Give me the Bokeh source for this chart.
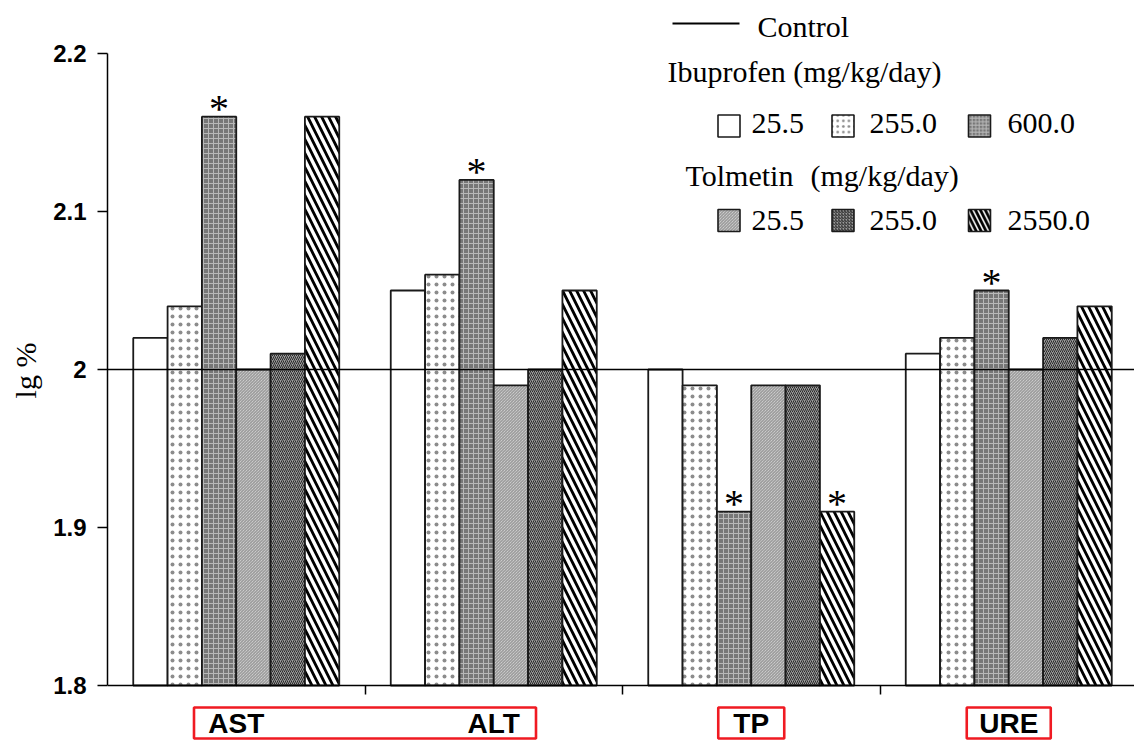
from bokeh.plotting import figure
from bokeh.models import Range1d, LinearAxis, FixedTicker, CustomJSTickFormatter, Span
from bokeh.core.properties import value
from bokeh.embed import file_html
from bokeh.resources import INLINE

# ---- data (lg % of control) ----
groups = ["AST", "ALT", "TP", "URE"]
ibu_25_5 = [2.02, 2.05, 2.00, 2.01]
ibu_255_0 = [2.04, 2.06, 1.99, 2.02]
ibu_600_0 = [2.16, 2.12, 1.91, 2.05]
tol_25_5 = [2.00, 1.99, 1.99, 2.00]
tol_255_0 = [2.01, 2.00, 1.99, 2.02]
tol_2550_0 = [2.16, 2.05, 1.91, 2.04]
control_level = 2.0
# significance markers (*) per group
sig_ibu_600_0 = [True, True, True, True]
sig_tol_2550_0 = [False, False, True, False]

ibu_doses = ["25.5", "255.0", "600.0"]
tol_doses = ["25.5", "255.0", "2550.0"]
y_ticks = [1.8, 1.9, 2.0, 2.1, 2.2]
# label boxes: which groups share one red frame
label_boxes = [["AST", "ALT"], ["TP"], ["URE"]]
label_box_widths = [342, 66, 84]

series_values = [ibu_25_5, ibu_255_0, ibu_600_0, tol_25_5, tol_255_0, tol_2550_0]
series_sig = [None, None, sig_ibu_600_0, None, None, sig_tol_2550_0]

# fill / hatch styles for the six dose series
styles = [
    dict(fill_color="white"),
    dict(fill_color="white", hatch_pattern="dot", hatch_color="#8c8c8c", hatch_scale=8, hatch_weight=0.6),
    dict(fill_color="#777777", hatch_pattern="cross", hatch_color="#b8b8b8", hatch_scale=5, hatch_weight=1),
    dict(fill_color="#e2e2e2", hatch_pattern="left_diagonal_line", hatch_color="#8a8a8a", hatch_scale=3, hatch_weight=1),
    dict(fill_color="#9a9a9a", hatch_pattern="right_diagonal_line", hatch_color="#2a2a2a", hatch_scale=4, hatch_weight=1),
    dict(fill_color="white", hatch_pattern="left_diagonal_line", hatch_color="black", hatch_scale=14, hatch_weight=2.8),
]

W, H = 1134, 740
LEFT = 107
GROUP_PX = 257.5
Y_PX = 1580.0        # pixels per unit of lg %
Y_ZERO_PX = 369      # vertical pixel of the control level

x_end = (W - LEFT) / GROUP_PX
y_top = control_level + Y_ZERO_PX / Y_PX
y_bot = control_level - (H - Y_ZERO_PX) / Y_PX


def px_x(px):
    return (px - LEFT) / GROUP_PX


def px_y(py):
    return control_level + (Y_ZERO_PX - py) / Y_PX


p = figure(width=W, height=H, output_backend="svg", toolbar_location=None,
           x_range=Range1d(0, x_end), y_range=Range1d(y_bot, y_top),
           x_axis_location=None, y_axis_location="left",
           min_border_left=LEFT, min_border_right=0, min_border_top=0, min_border_bottom=0)
p.outline_line_color = None
p.background_fill_color = "white"
p.border_fill_color = "white"
p.grid.visible = False

# y axis
ya = p.yaxis[0]
ya.ticker = FixedTicker(ticks=y_ticks)
ya.formatter = CustomJSTickFormatter(code="return Number(tick.toFixed(1)).toString();")
ya.bounds = (y_ticks[0], y_ticks[-1])
ya.minor_tick_line_color = None
ya.major_tick_in = 0
ya.major_tick_out = 10
ya.major_tick_line_width = 1.5
ya.axis_line_width = 1.5
ya.axis_line_color = "black"
ya.major_tick_line_color = "black"
ya.major_label_text_font = "Liberation Sans"
ya.major_label_text_font_style = "bold"
ya.major_label_text_font_size = "24px"
ya.major_label_text_color = "black"
ya.major_label_standoff = 11
ya.axis_label = "lg %"
ya.axis_label_text_font = "Liberation Serif"
ya.axis_label_text_font_style = "normal"
ya.axis_label_text_font_size = "30px"
ya.axis_label_text_color = "black"
ya.axis_label_standoff = 8

# x axis sitting at the bottom of the value range, ticks between groups
xa = LinearAxis(fixed_location=y_ticks[0])
xa.ticker = FixedTicker(ticks=list(range(1, len(groups))))
xa.major_label_text_font_size = "0px"
xa.major_label_text_alpha = 0
xa.minor_tick_line_color = None
xa.major_tick_in = 0
xa.major_tick_out = 9
xa.major_tick_line_width = 1.5
xa.axis_line_width = 1.5
xa.axis_line_color = "black"
p.add_layout(xa, "below")

# bars
n = len(series_values)
bw = 0.8 / n
for i, (vals, st) in enumerate(zip(series_values, styles)):
    xs = [g + 0.5 + (i - (n - 1) / 2) * bw for g in range(len(groups))]
    p.vbar(x=xs, top=vals, bottom=y_ticks[0], width=bw,
           line_color="#1a1a1a", line_width=1.8, **st)
    sig = series_sig[i]
    if sig:
        sx = [x for x, s in zip(xs, sig) if s]
        sy = [v for v, s in zip(vals, sig) if s]
        p.text(x=sx, y=sy, text=["*"] * len(sx), text_font=value("Liberation Serif"),
               text_font_size="40px", text_align="center", text_baseline="alphabetic",
               y_offset=-8, text_color="black")

# control level line
p.add_layout(Span(location=control_level, dimension="width", line_color="black", line_width=1.6))

# group labels and their red frames
gx = [g + 0.5 for g in range(len(groups))]
p.text(x=gx, y=[px_y(723)] * len(groups), text=groups, text_font=value("Liberation Sans"),
       text_font_style="bold", text_font_size="28px", text_align="center",
       text_baseline="middle", text_color="black")
box_x = [sum(gx[groups.index(g)] for g in box) / len(box) for box in label_boxes]
p.rect(x=box_x, y=[px_y(722.5)] * len(box_x), width=label_box_widths,
       height=[31] * len(box_x), width_units="screen", height_units="screen",
       fill_color=None, line_color="#f01a22", line_width=2.6)

# legend
serif = value("Liberation Serif")
p.segment(x0=[px_x(672)], y0=[px_y(23)], x1=[px_x(739)], y1=[px_y(23)],
          line_color="black", line_width=1.8)
leg_text = ["Control", "Ibuprofen (mg/kg/day)", "Tolmetin", "(mg/kg/day)"]
p.text(x=[px_x(757), px_x(667), px_x(685), px_x(810)],
       y=[px_y(26), px_y(71), px_y(175), px_y(175)],
       text=leg_text, text_font=serif, text_font_size="30px",
       text_align="left", text_baseline="alphabetic", text_color="black")

icon_cx = [728.5, 842.5, 979]
text_x = [751, 869, 1007]
for row, (doses, icon_y, base_y) in enumerate([(ibu_doses, 125.5, 123), (tol_doses, 220, 220)]):
    for k, dose in enumerate(doses):
        st = dict(styles[row * 3 + k])
        if "hatch_scale" in st:
            st["hatch_scale"] = max(3, st["hatch_scale"] * 0.7)
        p.rect(x=[px_x(icon_cx[k])], y=[px_y(icon_y)], width=22, height=22,
               width_units="screen", height_units="screen",
               line_color="#1a1a1a", line_width=1.6, **st)
    p.text(x=[px_x(t) for t in text_x], y=[px_y(base_y)] * 3, text=doses,
           text_font=serif, text_font_size="30px", text_align="left",
           text_baseline="alphabetic", text_color="black")

open("out.html", "w").write(file_html(p, INLINE))
